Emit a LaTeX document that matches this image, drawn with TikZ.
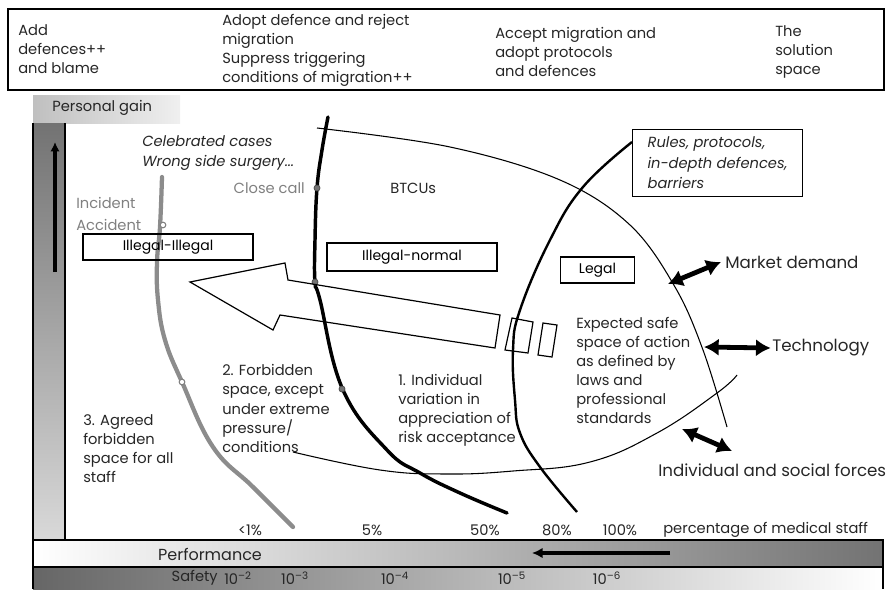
\documentclass[tikz,border=0pt]{standalone}
\usepackage{fontspec}
\setmainfont{Poppins}
\usetikzlibrary{arrows.meta}

\tikzset{
  txt/.style={font=\fontsize{11}{14.3}\selectfont, align=left, inner sep=0pt, text=black!85},
  bigtxt/.style={txt, font=\fontsize{12.5}{15}\selectfont},
  lawbox/.style={draw, line width=0.9pt, inner sep=0pt, minimum height=19.5pt, font=\fontsize{10.5}{12}\selectfont},
  dblarrow/.style={line width=3.6pt, {Latex[length=11pt,width=13pt]}-{Latex[length=11pt,width=13pt]}},
  opendot/.style={draw=black!50, fill=white, line width=0.8pt},
  fulldot/.style={draw=black!70, fill=black!55, line width=0.6pt},
}

\begin{document}
\begin{tikzpicture}[x=0.75pt, y=-0.75pt]
    \useasboundingbox (0,0) rectangle (892,589);

    % heading strip
    \draw[line width=0.8pt] (8,9) rectangle (884,90);
    \node[txt, anchor=west] (blame) at (18,49) {Add\\defences++\\and blame};
    \node[txt, anchor=west] (reject) at (222,50.5) {Adopt defence and reject\\migration\\Suppress triggering\\conditions of migration++};
    \node[txt, anchor=west] (accept) at (495,52) {Accept migration and\\adopt protocols\\and defences};
    \node[txt, anchor=west] (solution) at (775,52) {The\\solution\\space};

    % axes bars
    \shade[left color=black!25, right color=black!6] (33,95) rectangle (180,123);
    \node[txt, anchor=west] (gain) at (52,108) {Personal gain};
    \shade[top color=black!55, bottom color=black!15] (33,123) rectangle (65,540);
    \draw[line width=0.8pt] (33,123) -- (33,540);
    \draw[line width=0.8pt] (65,123) -- (65,540);
    \coordinate (gainA) at (55,272);
    \coordinate (gainB) at (55,142);
    \draw[line width=2.4pt, -{Latex[length=7pt,width=7pt]}] (gainA) -- (gainB);

    \shade[left color=white, right color=black!55] (33,540) rectangle (883,567);
    \shade[left color=black!60, right color=white] (33,567) rectangle (883,589);
    \draw[line width=0.8pt] (33,589) -- (33,540) -- (883,540) -- (883,589);
    \draw[line width=0.8pt] (33,567) -- (883,567);
    \node[txt, font=\fontsize{12}{14}\selectfont] (perf) at (210,554) {Performance};
    \coordinate (perfA) at (670,553);
    \coordinate (perfB) at (532,553);
    \draw[line width=2.6pt, -{Latex[length=8pt,width=8pt]}] (perfA) -- (perfB);

    \node[txt, anchor=east] (safety) at (218,578) {Safety};
    \node[txt] (s2) at (238,578) {10\textsuperscript{--2}};
    \node[txt] (s3) at (295,578) {10\textsuperscript{--3}};
    \node[txt] (s4) at (395,578) {10\textsuperscript{--4}};
    \node[txt] (s5) at (512,578) {10\textsuperscript{--5}};
    \node[txt] (s6) at (607,578) {10\textsuperscript{--6}};

    \node[txt] (p1) at (250,530) {<1\%};
    \node[txt] (p5) at (372,530) {5\%};
    \node[txt] (p50) at (485,530) {50\%};
    \node[txt] (p80) at (557,530) {80\%};
    \node[txt] (p100) at (620,530) {100\%};
    \node[txt, anchor=west] (staff) at (663,530) {percentage of medical staff};

    % boundaries
    \draw[black!45, line width=3.2pt, line cap=round] plot[smooth, tension=0.7] coordinates {(162,177) (160,227) (157,262) (158,300) (165,340) (182,382) (213,447) (253,487) (293,527)};
    \draw[line width=2.6pt, line cap=round] plot[smooth, tension=0.7] coordinates {(328,117) (322,150) (317,188) (315,240) (315,282) (320,300) (343,390) (387,450) (420,473) (460,493) (507,513)};
    \draw[line width=1.8pt] plot[smooth, tension=0.7] coordinates {(632,142) (583,187) (550,240) (520,310) (513,350) (515,400) (520,433) (540,467) (577,512)};
    \draw[line width=0.8pt] plot[smooth, tension=0.6] coordinates {(317,128) (450,147) (560,180) (630,225) (675,287) (703,350) (727,427)};
    \draw[line width=0.8pt] plot[smooth, tension=0.7] coordinates {(293,452) (380,470) (447,474) (513,471) (590,462) (657,433) (717,393) (737,375)};

    \draw[opendot] (163,225) circle (2.8);
    \draw[opendot] (182,382) circle (2.8);
    \draw[fulldot] (317,188) circle (3);
    \draw[fulldot] (315,282) circle (3);
    \draw[fulldot] (342,389) circle (3);

    % migration arrow
    \draw[line width=0.9pt] (190,282) -- (285,263) -- (288,280) -- (500,315) -- (495,348) -- (280,315) -- (273,330) -- cycle;
    \draw[line width=0.9pt] (512,318) -- (533,322) -- (528,353) -- (505,350) -- cycle;
    \draw[line width=0.9pt] (543,323) -- (557,325) -- (552,357) -- (538,355) -- cycle;

    % labels
    \node[txt, font=\itshape\fontsize{11}{14.5}\selectfont, anchor=west] (famous) at (142,153) {Celebrated cases\\Wrong side surgery...};
    \node[txt, text=black!50, anchor=west, font=\fontsize{11}{16.5}\selectfont] (incident) at (76,214) {Incident\\Accident};
    \node[txt, text=black!50, anchor=east] (closecall) at (305,188) {Close call};
    \node[txt, anchor=west] (btcu) at (390,188) {BTCUs};
    \node[lawbox, minimum width=127.5pt] (illill) at (168,247) {Illegal-Illegal};
    \node[lawbox, minimum width=127.5pt, minimum height=21pt] (illnorm) at (412,257) {Illegal-normal};
    \node[lawbox, minimum width=56pt] (legal) at (597.5,270) {Legal};
    \node[draw, line width=0.9pt, anchor=north west, minimum width=127.5pt, minimum height=50pt, inner xsep=4pt, align=left, font=\itshape\fontsize{11}{15.5}\selectfont, text=black!85] (rules) at (632,129) {Rules, protocols,\\in-depth defences,\\barriers};

    \node[txt, anchor=west] (zone1) at (398,410) {1. Individual\\variation in\\appreciation of\\risk acceptance};
    \node[txt, anchor=west] (zone2) at (222,408.5) {2. Forbidden\\space, except\\under extreme\\pressure/\\conditions};
    \node[txt, anchor=west] (zone3) at (83,449) {3. Agreed\\forbidden\\space for all\\staff};
    \node[txt, anchor=west] (safe) at (576,370.5) {Expected safe\\space of action\\as defined by\\laws and\\professional\\standards};

    % pressures
    \node[bigtxt, anchor=west] (market) at (725,262) {Market demand};
    \node[bigtxt, anchor=west] (tech) at (772,348) {Technology};
    \node[bigtxt, anchor=west] (social) at (658,470) {Individual and social forces};
    \coordinate (marketA) at (668,284);
    \coordinate (techA) at (704,347);
    \coordinate (socialA) at (682,429);
    \coordinate (socialB) at (732,451);
    \draw[dblarrow] (marketA) -- ([xshift=-3pt]market.west);
    \draw[dblarrow] (techA) -- ([xshift=-1pt]tech.west);
    \draw[dblarrow] (socialA) -- (socialB);
\end{tikzpicture}
\end{document}
